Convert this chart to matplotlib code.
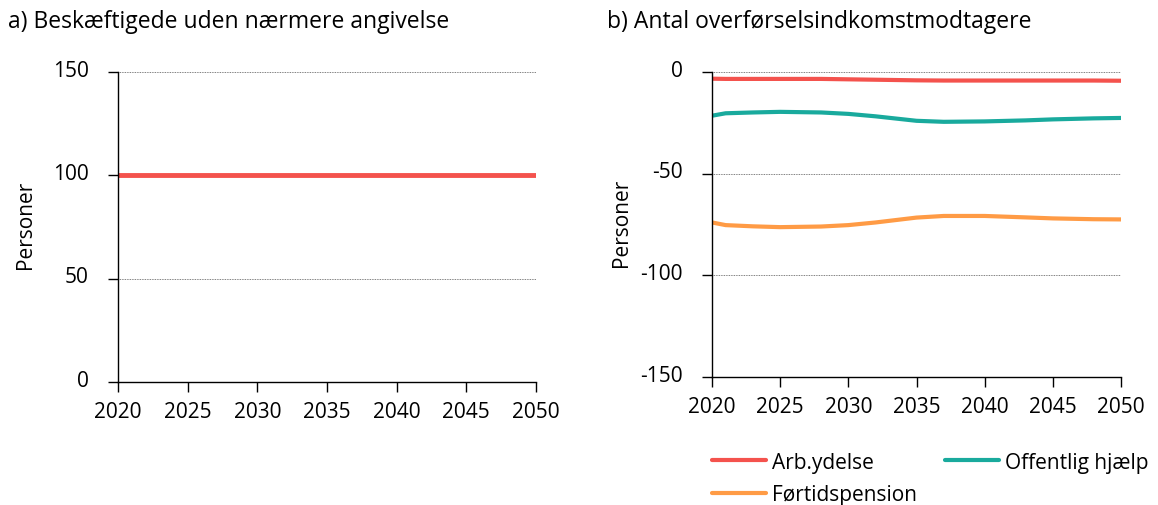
import matplotlib
matplotlib.use("Agg")
import matplotlib.pyplot as plt
import matplotlib.transforms as mtransforms
import numpy as np

plt.rcParams['font.family'] = ['Open Sans', 'DejaVu Sans']
plt.rcParams['axes.unicode_minus'] = False

# Panel a
years_a = [2020, 2025, 2030, 2035, 2040, 2045, 2050]
beskaeftigede = [100, 100, 100, 100, 100, 100, 100]

# Panel b
years_b = [2020, 2021, 2023, 2025, 2028, 2030, 2032, 2035, 2037, 2040, 2043, 2045, 2048, 2050]
arb_ydelse = [-3.3, -3.4, -3.4, -3.4, -3.4, -3.6, -3.8, -4.1, -4.2, -4.2, -4.2, -4.2, -4.2, -4.3]
offentlig = [-21.5, -20.3, -19.9, -19.6, -19.9, -20.6, -21.8, -24.0, -24.5, -24.3, -23.8, -23.3, -22.8, -22.6]
foertid = [-74.0, -75.3, -75.9, -76.3, -76.0, -75.3, -74.0, -71.6, -70.8, -70.8, -71.5, -72.0, -72.4, -72.5]

red = '#F4524D'
teal = '#19AA9D'
orange = '#FF9B45'

fig = plt.figure(figsize=(11.58, 5.06), dpi=100)
ax1 = fig.add_axes([118/1158, 1-383/506, (536-118)/1158, (383-73)/506])
ax2 = fig.add_axes([712/1158, 1-378/506, (1121-712)/1158, (378-73)/506])

FS = 15

def style(ax):
    for s in ['top', 'right']:
        ax.spines[s].set_visible(False)
    ax.spines['left'].set_color('black')
    ax.spines['bottom'].set_color('black')
    ax.spines['left'].set_linewidth(1.0)
    ax.spines['bottom'].set_linewidth(1.0)
    ax.tick_params(axis='y', length=7, width=1.0, labelsize=FS, pad=14)
    ax.tick_params(axis='x', length=7, width=1.0, labelsize=FS, pad=7)
    ax.set_xlim(2020, 2050)
    ax.set_xticks(years_a)
    ax.grid(axis='y', linestyle=(0, (1, 1)), color='#555555', linewidth=0.6)
    ax.set_axisbelow(True)
    ax.set_ylabel('Personer', fontsize=FS)

def shift_ylabels(ax):
    off = mtransforms.ScaledTranslation(0, 3/72, fig.dpi_scale_trans)
    for t in ax.yaxis.get_major_ticks():
        t.label1.set_transform(t.label1.get_transform() + off)

style(ax1)
ax1.set_ylim(0, 150)
ax1.set_yticks([0, 50, 100, 150])
ax1.plot(years_a, beskaeftigede, color=red, linewidth=3.5, solid_capstyle='round')
ax1.yaxis.set_label_coords(-0.195, 0.51)
shift_ylabels(ax1)

style(ax2)
ax2.set_ylim(-150, 0)
ax2.set_yticks([-150, -100, -50, 0])
l1, = ax2.plot(years_b, arb_ydelse, color=red, linewidth=3, solid_capstyle='round', label='Arb.ydelse')
l2, = ax2.plot(years_b, offentlig, color=teal, linewidth=3, solid_capstyle='round', label='Offentlig hjælp')
l3, = ax2.plot(years_b, foertid, color=orange, linewidth=3, solid_capstyle='round', label='Førtidspension')
ax2.yaxis.set_label_coords(-0.195, 0.51)
shift_ylabels(ax2)

fig.text(8/1158, 1-22/506, 'a) Beskæftigede uden nærmere angivelse', fontsize=16.5, va='center', ha='left')
fig.text(607/1158, 1-22/506, 'b) Antal overførselsindkomstmodtagere', fontsize=16.5, va='center', ha='left')

leg = ax2.legend([l1, l3, l2], ['Arb.ydelse', 'Førtidspension', 'Offentlig hjælp'],
                 loc='upper left', bbox_to_anchor=(0.0, -0.245), ncol=2, frameon=False,
                 fontsize=FS, handlelength=2.6, handletextpad=0.3, columnspacing=1.3,
                 labelspacing=0.55, borderaxespad=0, borderpad=0)

fig.savefig('out.png', dpi=100)
